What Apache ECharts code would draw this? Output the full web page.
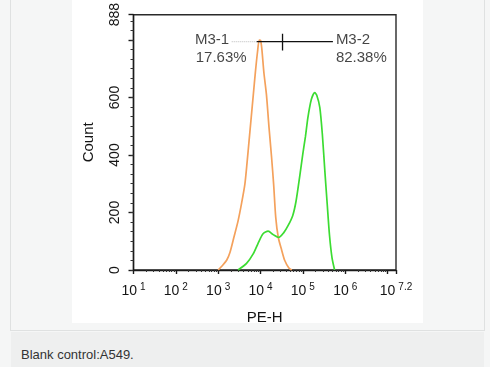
<!DOCTYPE html>
<html>
<head>
<meta charset="utf-8">
<script src="https://cdn.jsdelivr.net/npm/echarts@6/dist/echarts.min.js"></script>
<style>
  html, body { margin: 0; padding: 0; width: 490px; height: 367px; overflow: hidden; background: #f5f6f6; }
  #frame { position: absolute; left: 10px; top: -1px; width: 473px; height: 331px; border-left: 1px solid #dfe1e1; border-right: 1px solid #dfe1e1; border-bottom: 1px solid #dfe1e1; background: #f5f6f6; }
  #img { position: absolute; left: 72px; top: 0; width: 351px; height: 323px; background: #ffffff; }
  #caption { position: absolute; left: 11px; top: 332px; width: 473px; height: 35px; background: #eeefef; font-family: "Liberation Sans", Arial, sans-serif; font-size: 13px; color: #333; }
  #caption span { position: absolute; left: 10px; top: 15px; }
  #chart { position: absolute; left: 0; top: 0; width: 490px; height: 367px; }
</style>
</head>
<body>
<div id="frame"></div>
<div id="img"></div>
<div id="caption"><span>Blank control:A549.</span></div>
<div id="chart"></div>
<script>
// ---- data (x values are log10 of PE-H) ----
const orangeLog   = [3.00, 3.09, 3.20, 3.28, 3.37, 3.47, 3.55, 3.63, 3.68, 3.73, 3.78, 3.83, 3.88, 3.93, 3.97, 4.00, 4.03, 4.08, 4.14, 4.20, 4.26, 4.31, 4.36, 4.42, 4.50, 4.57, 4.67, 4.74];
const orangeCount = [0,    14,   34,   62,   113,  171,  230,  298,  370,  450,  530,  610,  690,  760,  800,  799,  771,  686,  610,  497,  394,  298,  182,  113,  69,   34,   7,    0];
const greenLog    = [3.47, 3.67, 3.83, 3.94, 4.06, 4.18, 4.30, 4.43, 4.55, 4.65, 4.76, 4.84, 4.93, 5.00, 5.06, 5.12, 5.20, 5.28, 5.33, 5.40, 5.46, 5.52, 5.57, 5.63, 5.69, 5.75];
const greenCount  = [0,    23,   57,   92,   126,  135,  123,  113,  130,  154,  189,  240,  330,  405,  463,  531,  593,  617,  607,  566,  473,  343,  240,  120,  41,   0];

const xMajorTicks  = [1, 2, 3, 4, 5, 6, 7, 7.2];
const xLabelValues = [1, 2, 3, 4, 5, 6, 7.2];
const yMajorTicks  = [0, 200, 400, 600, 800, 888];
const yLabelValues = [0, 200, 400, 600, 888];

// gate markers (log10 x, count)
const gateDottedLog = [3.32, 3.91];
const gateSolidLog  = [3.91, 5.71];
const gateLevel     = 794;
const gateSplitLog  = 4.52;
const gateSplitSpan = [763, 822];
const annoText  = ['M3-1', '17.63%', 'M3-2', '82.38%'];
const annoLog   = [2.45, 2.47, 5.78, 5.78];
const annoCount = [801, 737, 801, 737];

// minor tick positions: log10 of 2..9 within each decade, and every 200/6 on y
const xMinorTicks = [];
for (let d = 1; d <= 7; d++) for (let k = 2; k <= 9; k++) { const v = d + Math.log10(k); if (v < 7.2) xMinorTicks.push(+v.toFixed(4)); }
const yMinorTicks = [];
for (let v = 0; v <= 888; v += 200 / 6) yMinorTicks.push(+v.toFixed(3));

const FONT = '"Liberation Sans", Arial, sans-serif';
const TXT = '#151515';
const zip = (a, b) => a.map((v, i) => [v, b[i]]);

const chart = echarts.init(document.getElementById('chart'), null, { renderer: 'canvas' });
const axisLineStyle = { color: '#1a1a1a', width: 1.4 };

chart.setOption({
  backgroundColor: 'transparent',
  animation: false,
  grid: { left: 133.5, top: 11, width: 262.5, height: 259, show: true, borderColor: '#2a2a2a', borderWidth: 1.4, backgroundColor: 'transparent' },
  xAxis: [{
    type: 'value', min: 1, max: 7.2,
    name: 'PE-H', nameLocation: 'middle', nameGap: 40,
    nameTextStyle: { fontFamily: FONT, fontSize: 15, color: TXT },
    axisLine: { show: true, onZero: false, lineStyle: axisLineStyle },
    axisTick: { show: true, length: 4, lineStyle: axisLineStyle, customValues: xMajorTicks },
    splitLine: { show: false },
    axisLabel: {
      customValues: xLabelValues, margin: 12,
      formatter: v => '{b|10}{s|' + (Number.isInteger(v) ? v : v.toFixed(1)) + '}',
      rich: {
        b: { fontFamily: FONT, fontSize: 14, color: TXT, lineHeight: 18 },
        s: { fontFamily: FONT, fontSize: 10, color: TXT, verticalAlign: 'top', padding: [0, 0, 0, 3] }
      }
    }
  }, {
    type: 'value', min: 1, max: 7.2, position: 'bottom',
    axisLine: { show: false, onZero: false },
    axisTick: { show: true, length: 2, lineStyle: { color: '#333', width: 1 }, customValues: xMinorTicks },
    axisLabel: { show: false }, splitLine: { show: false }
  }],
  yAxis: [{
    type: 'value', min: 0, max: 888,
    name: 'Count', nameLocation: 'middle', nameGap: 37, nameRotate: 90,
    nameTextStyle: { fontFamily: FONT, fontSize: 15, color: TXT },
    axisLine: { show: true, onZero: false, lineStyle: axisLineStyle },
    axisTick: { show: true, length: 5, lineStyle: axisLineStyle, customValues: yMajorTicks },
    splitLine: { show: false },
    axisLabel: { customValues: yLabelValues, rotate: 90, margin: 11, fontFamily: FONT, fontSize: 14, color: TXT }
  }, {
    type: 'value', min: 0, max: 888, position: 'left',
    axisLine: { show: false, onZero: false },
    axisTick: { show: true, length: 3, lineStyle: { color: '#333', width: 1 }, customValues: yMinorTicks },
    axisLabel: { show: false }, splitLine: { show: false }
  }],
  series: [
    {
      type: 'line', name: 'Blank', data: zip(orangeLog, orangeCount), showSymbol: false, smooth: 0.25,
      lineStyle: { color: '#f4a15c', width: 1.7 }, itemStyle: { color: '#f4a15c' }, z: 3
    },
    {
      type: 'line', name: 'Sample', data: zip(greenLog, greenCount), showSymbol: false, smooth: 0.25,
      lineStyle: { color: '#3cdc32', width: 1.7 }, itemStyle: { color: '#3cdc32' }, z: 3
    },
    {
      type: 'line', data: gateDottedLog.map(v => [v, gateLevel]), showSymbol: false,
      lineStyle: { color: '#bbbbbb', width: 1, type: 'dotted' }, z: 4
    },
    {
      type: 'line', data: gateSolidLog.map(v => [v, gateLevel]), showSymbol: false,
      lineStyle: { color: '#111', width: 1.3 }, z: 4
    },
    {
      type: 'line', data: gateSplitSpan.map(c => [gateSplitLog, c]), showSymbol: false,
      lineStyle: { color: '#111', width: 1.3 }, z: 4
    },
    {
      type: 'scatter', symbolSize: 0, z: 5,
      data: annoText.map((t, i) => ({ value: [annoLog[i], annoCount[i]], name: t })),
      label: { show: true, position: 'right', distance: 0, formatter: p => p.name, fontFamily: FONT, fontSize: 15, color: TXT }
    }
  ]
});
</script>
</body>
</html>
